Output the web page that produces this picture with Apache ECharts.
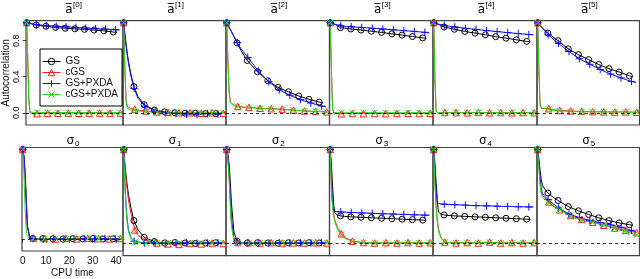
<!DOCTYPE html>
<html><head><meta charset="utf-8">
<script src="https://cdn.jsdelivr.net/npm/echarts@6/dist/echarts.min.js"></script>
<style>html,body{margin:0;padding:0;background:#fff}#c{width:640px;height:279px}</style>
</head><body><div id="c"></div>
<script>
// ---- time grids (CPU time) per algorithm, and which points carry a marker
const tGS  = [0,0.5,1,1.5,2,3,4.3,6,8.6,12.9,17.2,21.5,25.8,30.1,34.4,38.7,40.3];
const mGS  = [1,0,0,0,0,0,1,0,1,1,1,1,1,1,1,1,0];
const tCGS = [0,0.5,1,1.5,2,3,4.65,6,9.3,13.95,18.6,23.25,27.9,32.55,37.2,41.85];
const mCGS = [1,0,0,0,0,0,1,0,1,1,1,1,1,1,1,1];
const tPX  = [0,0.5,1,1.5,2,3,4.4,6,8.8,13.2,17.6,22,26.4,30.8,35.2,39.6,41.5];
const mPX  = [1,0,0,0,0,0,1,0,1,1,1,1,1,1,1,1,0];
const tCPX = [0,0.5,1,1.5,2,3,4.65,6,9.3,13.95,18.6,23.25,27.9,32.55,37.2,41.85];
const mCPX = [1,0,0,0,0,0,1,0,1,1,1,1,1,1,1,1];

const panelNames = ['a0','a1','a2','a3','a4','a5','s0','s1','s2','s3','s4','s5'];
const seriesNames = ['GS','cGS','GS+PXDA','cGS+PXDA'];
const xTicks = [0,10,20,30,40];
const yTicks = [0,0.4,0.8];

// ---- autocorrelation values
const a0_GS  = [1,0.997,0.994,0.991,0.988,0.982,0.974,0.968,0.96,0.947,0.938,0.932,0.926,0.918,0.91,0.896,0.89];
const a0_cGS = [1,0.6,0.15,0.0,-0.012,-0.014,-0.01,-0.008,-0.005,-0.006,-0.004,-0.005,-0.004,-0.003,-0.004,-0.003];
const a0_PX  = [1,0.997,0.994,0.992,0.99,0.985,0.978,0.974,0.968,0.96,0.953,0.947,0.94,0.934,0.928,0.922,0.92];
const a0_cPX = [1,0.55,0.1,0.01,0.005,0.003,0.004,0.002,0.003,0.002,0.003,0.001,0.002,0.002,0.001,0.002];

const a1_GS  = [1,0.87,0.76,0.66,0.57,0.43,0.29,0.18,0.09,0.03,0.01,0.0,-0.005,-0.005,-0.01,-0.01,-0.01];
const a1_cGS = [1,0.5,0.15,0.07,0.055,0.045,0.04,0.03,0.02,0.01,0.005,0.0,0.0,-0.005,0.0,-0.005];
const a1_PX  = [1,0.86,0.74,0.64,0.55,0.41,0.27,0.16,0.075,0.02,0.0,-0.01,-0.015,-0.02,-0.01,-0.015,-0.01];
const a1_cPX = [1,0.45,0.12,0.05,0.04,0.03,0.025,0.02,0.01,0.005,0.0,0.0,0.0,-0.003,0.0,0.0];

const a2_GS  = [1,0.975,0.95,0.925,0.9,0.845,0.775,0.69,0.58,0.455,0.355,0.282,0.233,0.186,0.149,0.118,0.11];
const a2_cGS = [1,0.6,0.25,0.12,0.1,0.085,0.07,0.065,0.06,0.05,0.045,0.04,0.03,0.02,0.015,0.01];
const a2_PX  = [1,0.975,0.95,0.925,0.9,0.85,0.78,0.71,0.615,0.465,0.345,0.255,0.195,0.145,0.108,0.075,0.065];
const a2_cPX = [1,0.55,0.22,0.11,0.095,0.08,0.07,0.062,0.056,0.048,0.042,0.036,0.028,0.02,0.013,0.008];

const a3_GS  = [1,0.995,0.99,0.985,0.98,0.97,0.945,0.94,0.93,0.918,0.905,0.892,0.876,0.862,0.846,0.831,0.826];
const a3_cGS = [1,0.5,0.05,-0.01,-0.012,-0.01,-0.012,-0.01,-0.008,-0.01,-0.008,-0.01,-0.008,-0.006,-0.008,-0.006];
const a3_PX  = [1,0.995,0.99,0.986,0.982,0.975,0.965,0.96,0.955,0.947,0.938,0.93,0.921,0.912,0.903,0.893,0.888];
const a3_cPX = [1,0.45,0.04,0.005,0.002,0.0,0.002,0.001,0.0,0.002,0.001,0.0,0.001,0.0,0.001,0.0];

const a4_GS  = [1,0.995,0.99,0.985,0.98,0.97,0.952,0.942,0.927,0.903,0.884,0.866,0.845,0.828,0.81,0.792,0.786];
const a4_cGS = [1,0.4,0.02,0.0,-0.005,0.0,0.003,0.0,0.002,0.0,0.003,0.0,0.002,0.0,0.002,0.0];
const a4_PX  = [1,0.996,0.992,0.988,0.984,0.978,0.968,0.962,0.952,0.938,0.925,0.913,0.901,0.89,0.879,0.869,0.865];
const a4_cPX = [1,0.35,0.01,0.003,0.001,0.0,0.002,0.0,0.001,0.0,0.002,0.0,0.001,0.0,0.001,0.0];

const a5_GS  = [1,0.985,0.97,0.955,0.94,0.915,0.885,0.85,0.8,0.71,0.645,0.59,0.535,0.49,0.452,0.41,0.398];
const a5_cGS = [1,0.5,0.1,0.05,0.05,0.048,0.045,0.035,0.025,0.02,0.015,0.012,0.01,0.008,0.01,0.005];
const a5_PX  = [1,0.985,0.97,0.955,0.94,0.91,0.865,0.83,0.77,0.68,0.6,0.538,0.48,0.43,0.387,0.348,0.335];
const a5_cPX = [1,0.45,0.08,0.05,0.05,0.05,0.04,0.03,0.02,0.015,0.012,0.01,0.01,0.008,0.006,0.005];

const s0_GS  = [1,0.93,0.75,0.45,0.15,0.02,0.005,0.0,0.003,0.0,-0.003,0.002,0.0,0.003,-0.002,0.0,0.002];
const s0_cGS = [1,0.92,0.72,0.42,0.13,0.015,0.005,0.0,0.004,-0.002,0.005,0.0,0.006,0.002,0.0,0.004];
const s0_PX  = [1,0.93,0.74,0.44,0.14,0.02,0.004,0.0,-0.002,0.003,0.0,-0.003,0.002,0.0,0.004,0.0,0.002];
const s0_cPX = [1,0.75,0.35,0.1,0.03,0.01,0.0,0.003,0.0,0.004,-0.002,0.002,0.0,0.003,0.0,0.002];

const s1_GS  = [1,0.85,0.72,0.61,0.52,0.38,0.24,0.14,0.06,0.015,0.0,0.005,0.0,-0.005,0.0,0.003,0.0];
const s1_cGS = [1,0.83,0.68,0.56,0.46,0.32,0.14,0.08,0.03,0.0,-0.01,-0.015,-0.005,-0.01,0.0,-0.005];
const s1_PX  = [1,0.65,0.4,0.24,0.14,0.06,0.02,0.01,0.0,0.003,-0.003,0.0,0.002,-0.002,0.0,0.002,0.0];
const s1_cPX = [1,0.62,0.37,0.21,0.12,0.05,0.01,0.005,0.0,0.002,0.0,-0.002,0.002,0.0,0.0,0.002];

const s2_GS  = [1,0.95,0.85,0.65,0.42,0.12,0.02,0.005,0.0,0.003,0.0,-0.003,0.002,0.0,0.003,0.0,0.002];
const s2_cGS = [1,0.9,0.72,0.45,0.22,0.04,0.005,0.0,0.003,0.0,0.004,0.0,0.002,0.0,0.003,0.0];
const s2_PX  = [1,0.92,0.75,0.5,0.25,0.05,0.01,0.0,0.002,0.0,-0.002,0.003,0.0,0.002,0.0,0.003,0.0];
const s2_cPX = [1,0.88,0.68,0.4,0.18,0.03,0.004,0.0,0.002,0.0,0.003,0.0,0.002,0.0,0.002,0.0];

const s3_GS  = [1,0.85,0.6,0.4,0.32,0.3,0.29,0.285,0.28,0.275,0.27,0.265,0.26,0.255,0.25,0.245,0.243];
const s3_cGS = [1,0.6,0.4,0.3,0.24,0.17,0.1,0.06,0.02,0.005,0.0,0.003,0.0,0.005,0.0,0.003];
const s3_PX  = [1,0.7,0.4,0.34,0.338,0.336,0.333,0.33,0.327,0.322,0.317,0.313,0.31,0.306,0.302,0.298,0.296];
const s3_cPX = [1,0.58,0.38,0.28,0.22,0.15,0.09,0.05,0.015,0.003,0.0,0.002,0.0,0.003,0.0,0.002];

const s4_GS  = [1,0.85,0.65,0.45,0.33,0.31,0.3,0.295,0.29,0.285,0.28,0.275,0.27,0.265,0.26,0.255,0.253];
const s4_cGS = [1,0.65,0.4,0.25,0.15,0.06,0.01,0.005,0.0,0.005,0.0,0.01,0.0,0.005,0.0,0.005];
const s4_PX  = [1,0.8,0.55,0.43,0.42,0.418,0.415,0.413,0.41,0.405,0.4,0.397,0.394,0.391,0.388,0.386,0.385];
const s4_cPX = [1,0.62,0.37,0.22,0.13,0.05,0.008,0.003,0.0,0.003,0.0,0.006,0.0,0.003,0.0,0.003];

const s5_GS  = [1,0.9,0.78,0.68,0.62,0.575,0.535,0.5,0.455,0.39,0.345,0.305,0.27,0.24,0.215,0.196,0.19];
const s5_cGS = [1,0.82,0.65,0.55,0.51,0.48,0.44,0.41,0.355,0.295,0.255,0.222,0.19,0.16,0.135,0.11];
const s5_PX  = [1,0.85,0.7,0.58,0.53,0.5,0.465,0.43,0.375,0.31,0.272,0.243,0.218,0.193,0.168,0.135,0.122];
const s5_cPX = [1,0.8,0.62,0.52,0.49,0.47,0.43,0.4,0.36,0.28,0.24,0.22,0.19,0.155,0.12,0.089];

const panelData = [
  [a0_GS,a0_cGS,a0_PX,a0_cPX],[a1_GS,a1_cGS,a1_PX,a1_cPX],[a2_GS,a2_cGS,a2_PX,a2_cPX],
  [a3_GS,a3_cGS,a3_PX,a3_cPX],[a4_GS,a4_cGS,a4_PX,a4_cPX],[a5_GS,a5_cGS,a5_PX,a5_cPX],
  [s0_GS,s0_cGS,s0_PX,s0_cPX],[s1_GS,s1_cGS,s1_PX,s1_cPX],[s2_GS,s2_cGS,s2_PX,s2_cPX],
  [s3_GS,s3_cGS,s3_PX,s3_cPX],[s4_GS,s4_cGS,s4_PX,s4_cPX],[s5_GS,s5_cGS,s5_PX,s5_cPX]
];

// ---- layout and style
const colEdges = [22,123,226,329.5,433,537,639.5];
const rowTop = [20.7,147.5], rowH = [104.3,108.2];
const FONT = '"Liberation Sans", Arial, sans-serif';
const times = [tGS,tCGS,tPX,tCPX];
const marks = [mGS,mCGS,mPX,mCPX];
const colors = ['#000000','#ff2020','#1010ff','#22dd22'];
const symbols = [
  'path://M10,5 A5,5 0 1,1 0,5 A5,5 0 1,1 10,5 Z',
  'path://M5,0 L10,8.66 L0,8.66 Z',
  'path://M0,5 L10,5 M5,0 L5,10',
  'path://M0,0 L10,10 M10,0 L0,10'
];
const symSizes = [6,6.5,7.5,6];

const grids=[], xAxes=[], yAxes=[], series=[], graphics=[];
for (let p=0;p<12;p++){
  const r = Math.floor(p/6), c = p%6;
  const L = colEdges[c], R = colEdges[c+1];
  grids.push({left:L, top:rowTop[r], width:R-L, height:rowH[r], show:true, borderColor:'#444', borderWidth:1.2, containLabel:false});
  const isXLab = (p===6), isYLab = (p===0);
  xAxes.push({type:'value', gridIndex:p, min:-0.3, max:43,
    axisLine:{show:false}, splitLine:{show:false},
    axisTick:{show:isXLab, customValues:xTicks, length:4, lineStyle:{color:'#333'}},
    axisLabel:{show:isXLab, customValues:xTicks, fontSize:10, fontFamily:FONT, color:'#111', margin:5},
    name:isXLab?'CPU time':'', nameLocation:'middle', nameGap:17, nameTextStyle:{fontSize:10, fontFamily:FONT, color:'#111'}});
  yAxes.push({type:'value', gridIndex:p, min:-0.136, max:1.022,
    axisLine:{show:false}, splitLine:{show:false},
    axisTick:{show:isYLab, customValues:yTicks, length:4, lineStyle:{color:'#333'}},
    axisLabel:{show:isYLab, customValues:yTicks, rotate:90, fontSize:9, fontFamily:FONT, color:'#111', margin:5, formatter:v=>v.toFixed(1)},
    name:isYLab?'Autocorrelation':'', nameLocation:'middle', nameGap:15, nameTextStyle:{fontSize:10, fontFamily:FONT, color:'#111'}});
  for (let k=0;k<4;k++){
    const t = times[k], m = marks[k], y = panelData[p][k];
    const s = {
      type:'line', name:seriesNames[k], xAxisIndex:p, yAxisIndex:p,
      data: t.map((x,j)=>({value:[x,y[j]], symbol: m[j]?symbols[k]:'none'})),
      symbol:symbols[k], symbolSize:symSizes[k], showSymbol:true, showAllSymbol:true,
      lineStyle:{color:colors[k], width:1}, itemStyle:{color:'rgba(0,0,0,0)', borderColor:colors[k], borderWidth:1},
      emphasis:{disabled:true}, animation:false, silent:true
    };
    if (k===0) s.markLine = {silent:true, symbol:['none','none'], label:{show:false},
      lineStyle:{type:[3,3], color:'#000', width:0.8}, data:[{yAxis:0}], animation:false};
    series.push(s);
  }
  const cx = (L+R)/2;
  if (r===0){
    graphics.push({type:'text', x:cx-3.5, y:9.5, style:{text:'a\u0305', font:'12px "DejaVu Sans"', fill:'#000', align:'center', textAlign:'center', verticalAlign:'middle', textVerticalAlign:'middle'}});
    graphics.push({type:'text', x:cx+0.5, y:5, style:{text:'['+c+']', font:'8px '+FONT, fill:'#000', align:'left', textAlign:'left', verticalAlign:'middle', textVerticalAlign:'middle'}});
  } else {
    graphics.push({type:'text', x:cx-2, y:140.5, style:{text:'\u03c3', font:'12px '+FONT, fill:'#000', align:'center', textAlign:'center', verticalAlign:'middle', textVerticalAlign:'middle'}});
    graphics.push({type:'text', x:cx+2.5, y:143.5, style:{text:String(c), font:'8px '+FONT, fill:'#000', align:'left', textAlign:'left', verticalAlign:'middle', textVerticalAlign:'middle'}});
  }
}

const chart = echarts.init(document.getElementById('c'), null, {renderer:'canvas'});
chart.setOption({
  animation:false, backgroundColor:'#fff',
  grid:grids, xAxis:xAxes, yAxis:yAxes, series:series, graphic:graphics,
  legend:{data:seriesNames, orient:'vertical', left:40, top:49, itemWidth:18, itemHeight:8, itemGap:1,
    padding:[7.5,4,6.5,2], borderColor:'#000', borderWidth:1, backgroundColor:'#fff',
    lineStyle:{width:1}, itemStyle:{borderWidth:1},
    textStyle:{fontSize:10, fontFamily:FONT, color:'#111', lineHeight:8}, selectedMode:false}
});
</script></body></html>
